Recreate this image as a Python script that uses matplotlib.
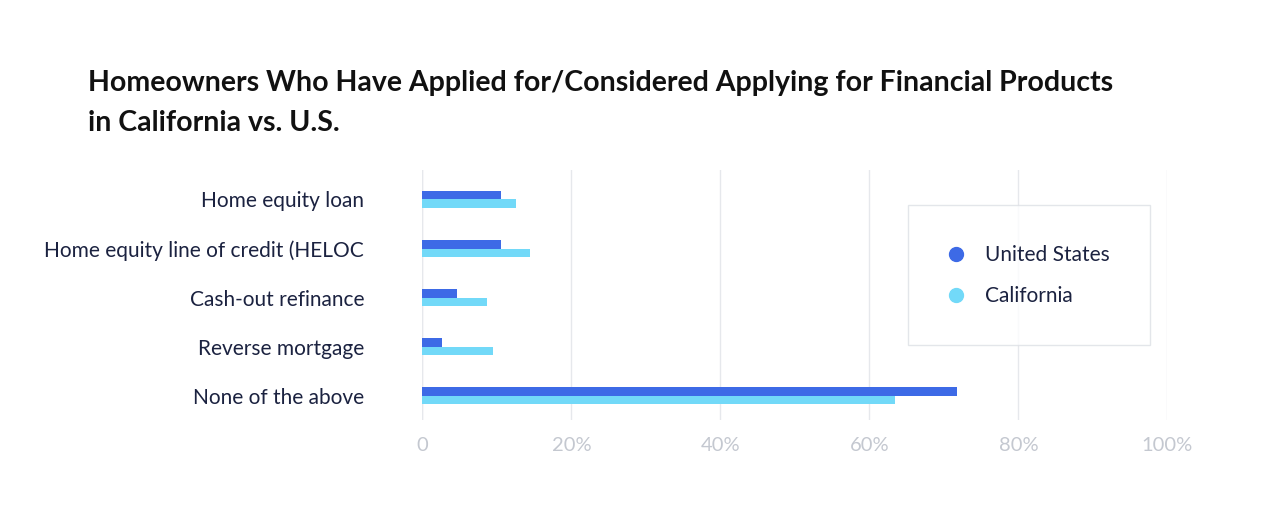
import matplotlib
matplotlib.use("Agg")
import matplotlib.pyplot as plt
from matplotlib.lines import Line2D
import numpy as np

categories = ["Home equity loan", "Home equity line of credit (HELOC", "Cash-out refinance",
              "Reverse mortgage", "None of the above"]
us = [10.6, 10.6, 4.7, 2.6, 71.8]
ca = [12.5, 14.4, 8.7, 9.5, 63.5]
ticks = [0, 20, 40, 60, 80, 100]
tick_labels = ["0", "20%", "40%", "60%", "80%", "100%"]

plt.rcParams['font.family'] = ['Lato', 'DejaVu Sans']
fig = plt.figure(figsize=(12.8, 5.2), dpi=100)
ax = fig.add_axes([0.33, 0.192, 0.582, 0.481])
y = np.arange(len(categories))
h = 0.17
c_us, c_ca = "#3D6AE6", "#72D9F8"
ax.barh(y - h/2, us, height=h, color=c_us)
ax.barh(y + h/2, ca, height=h, color=c_ca)
ax.set_ylim(len(categories) - 0.5, -0.6)
ax.set_xlim(0, 100)
ax.set_yticks(y)
ax.set_yticklabels(categories, fontsize=15, color="#1B2240")
ax.set_xticks(ticks)
ax.set_xticklabels(tick_labels, fontsize=14.5, color="#C4C8D0")
ax.tick_params(length=0, pad=12)
ax.tick_params(axis='y', pad=42)
ax.grid(axis='x', color="#E6E8EC", lw=1)
ax.set_axisbelow(True)
for s in ax.spines.values():
    s.set_visible(False)
ax.axvline(0, color="#E6E8EC", lw=1, zorder=0)
handles = [Line2D([], [], marker='o', ls='', color=c_us, markersize=10, label="United States"),
           Line2D([], [], marker='o', ls='', color=c_ca, markersize=10, label="California")]
leg = ax.legend(handles=handles, loc="upper left", bbox_to_anchor=(0.638, 0.9), frameon=True,
                fontsize=15, handlelength=0.8, borderpad=1.9, labelspacing=1.0,
                handletextpad=1.0, fancybox=False)
leg.get_frame().set_edgecolor("#DDE0E5")
for t in leg.get_texts():
    t.set_color("#1B2240")
fig.text(0.069, 0.825, "Homeowners Who Have Applied for/Considered Applying for Financial Products",
         fontsize=20.5, fontweight="bold", color="#111111")
fig.text(0.069, 0.748, "in California vs. U.S.", fontsize=20.5, fontweight="bold", color="#111111")
fig.savefig("out.png", dpi=100, facecolor="white")
